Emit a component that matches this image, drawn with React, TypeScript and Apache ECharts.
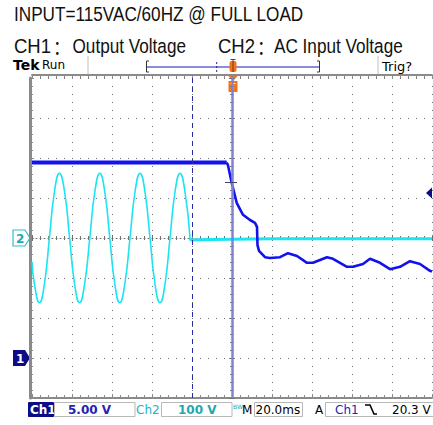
import React, { useEffect, useRef } from "react";
import * as echarts from "echarts";

// ---------- texts ----------
const titleLine = "INPUT=115VAC/60HZ @ FULL LOAD";
const legendParts = ["CH1", "：", "Output Voltage", "CH2", "：", "AC Input Voltage"];
const statusTexts = ["Tek", "Run", "Trig?"];
const bottomTexts = ["Ch1", "5.00 V", "Ch2", "100 V", "BW", "M", "20.0ms", "A", "Ch1", "20.3 V"];

// ---------- scope settings ----------
const TIME_MIN = -100; // ms (10 divisions of 20 ms)
const TIME_MAX = 100;
const TIME_PER_DIV = 20;
const DIV_MIN = -4;
const DIV_MAX = 4;
const CH1_VOLTS_PER_DIV = 5;
const CH1_OFFSET_DIV = -3;
const CH2_VOLTS_PER_DIV = 100;
const CH2_OFFSET_DIV = 0;

// ---------- CH2 : AC input voltage (V) ----------
const ch2SineTime = [
  -100, -98.8, -96.3, -93.8, -91.3, -88.8, -86.3, -83.7, -81.2, -78.7, -76.2, -73.7,
  -71.1, -68.6, -66.1, -63.6, -61.1, -58.6, -56.1, -53.6, -51.0, -48.5, -46.0, -43.5,
  -41.0, -38.5, -36.0, -33.5, -31.0, -28.5, -26.0, -23.5, -21.0,
];
const ch2SineVolts = [
  -60, -115, -162, -115, 0, 115, 162, 115, 0, -115, -162, -115,
  0, 115, 162, 115, 0, -115, -162, -115, 0, 115, 162, 115,
  0, -115, -162, -115, 0, 115, 162, 115, 0,
];
const ch2OffTime = [-21.0, -20.6, -10, 0, 20, 50, 80, 100];
const ch2OffVolts = [0, -5, -4, -3, -2, -2, -2, -2];

// ---------- CH1 : output voltage (V) ----------
const ch1HoldTime = [-100, -2.65];
const ch1HoldVolts = [24.44, 24.44];
const ch1DropTime = [
  -2.65, -2, -0.15, 2.35, 5.5, 9, 11.5, 12.5, 12.75, 13.5, 16.5, 19, 24, 28, 32.5,
  37.5, 40.5, 47.5, 50.5, 57.5, 60.5, 65.5, 69, 74, 79, 84, 89, 94, 99, 100,
];
const ch1DropVolts = [
  24.44, 24.1, 21.9, 19.4, 17.9, 17.25, 16.9, 16.4, 14.1, 13.4, 12.6, 12.5, 12.6, 13.1, 12.75,
  11.9, 11.9, 12.6, 12.4, 11.4, 11.4, 11.75, 12.4, 11.9, 11.1, 11.4, 12.1, 11.75, 10.9, 10.8,
];

// cursors (ms)
const cursorTime = 0;
const dashedCursorTime = -20;

const CH1_COLOR = "#1212ee";
const CH2_COLOR = "#1ce4f2";
const GRID_COLOR = "#707070";
const RULER_COLOR = "#8a8a8a";
const ORANGE = "#f07418";
const NAVY = "#0c0c86";

const toCh1 = (t: number[], v: number[]) => t.map((x, i) => [x, v[i] / CH1_VOLTS_PER_DIV + CH1_OFFSET_DIV]);
const toCh2 = (t: number[], v: number[]) => t.map((x, i) => [x, v[i] / CH2_VOLTS_PER_DIV + CH2_OFFSET_DIV]);

function buildOption(): any {
  const baseX = {
    type: "value",
    min: TIME_MIN,
    max: TIME_MAX,
    interval: TIME_PER_DIV,
    axisLabel: { show: false },
    splitLine: { show: false },
  };
  const baseY = {
    type: "value",
    min: DIV_MIN,
    max: DIV_MAX,
    interval: 1,
    axisLabel: { show: false },
    splitLine: { show: false },
  };
  const tickStyle = { color: GRID_COLOR, width: 1 };
  const rulerTick = { color: RULER_COLOR, width: 1 };

  const txt = (x: number, y: number, text: string, extra: any = {}, el: any = {}) => ({
    type: "text",
    x,
    y,
    silent: true,
    ...el,
    style: {
      text,
      fontFamily: "DejaVu Sans",
      fontSize: 12,
      fontWeight: "bold",
      fill: "#000",
      align: "left",
      verticalAlign: "middle",
      ...extra,
    },
  });
  const box = (x: number, y: number, w: number, h: number, fill = "#fff", stroke = "#b8b8b8") => ({
    type: "rect",
    silent: true,
    shape: { x, y, width: w, height: h },
    style: { fill, stroke, lineWidth: 1 },
  });

  const titleFont = { fontFamily: "Liberation Sans, Arial, sans-serif", fontSize: 19.5, fontWeight: "normal", fill: "#111" };
  const colonFont = { fontFamily: "Noto Sans CJK SC", fontSize: 19.5, fontWeight: "normal", fill: "#111" };
  const narrow = { scaleX: 0.88 };

  const graphic = [
    // title lines
    txt(14, 14, titleLine, titleFont, narrow),
    txt(14, 46.5, legendParts[0], titleFont, { scaleX: 0.95 }),
    txt(53, 46.5, legendParts[1], colonFont, narrow),
    txt(72.5, 46.5, legendParts[2], titleFont, narrow),
    txt(218, 46.5, legendParts[3], titleFont, { scaleX: 0.95 }),
    txt(257, 46.5, legendParts[4], colonFont, narrow),
    txt(274, 46.5, legendParts[5], titleFont, narrow),
    // status bar
    txt(13, 65, statusTexts[0], { fontSize: 14, fontFamily: "DejaVu Sans", fontWeight: "bold" }),
    txt(42, 65, statusTexts[1], { fontSize: 12, fontWeight: "normal" }),
    txt(382, 66, statusTexts[2], { fontSize: 13, fontWeight: "normal" }),
    { type: "line", silent: true, shape: { x1: 88, y1: 56, x2: 88, y2: 74 }, style: { stroke: "#c0c0c0", lineWidth: 1 } },
    { type: "line", silent: true, shape: { x1: 378, y1: 56, x2: 378, y2: 74 }, style: { stroke: "#c0c0c0", lineWidth: 1 } },
    // record view bar
    { type: "line", silent: true, shape: { x1: 146, y1: 67, x2: 320, y2: 67 }, style: { stroke: "#8c8cdc", lineWidth: 2 } },
    { type: "polyline", silent: true, shape: { points: [[149, 61], [146.5, 61], [146.5, 72], [149, 72]] }, style: { stroke: "#333", lineWidth: 1, fill: "none" } },
    { type: "polyline", silent: true, shape: { points: [[317, 61], [319.5, 61], [319.5, 72], [317, 72]] }, style: { stroke: "#333", lineWidth: 1, fill: "none" } },
    { type: "line", silent: true, shape: { x1: 216.7, y1: 62, x2: 216.7, y2: 72 }, style: { stroke: "#2020b0", lineWidth: 1, lineDash: [2, 2] } },
    { type: "rect", silent: true, shape: { x: 229.5, y: 61, width: 7, height: 11, r: 2 }, style: { fill: ORANGE } },
    { type: "line", silent: true, shape: { x1: 230.5, y1: 59.5, x2: 235.5, y2: 59.5 }, style: { stroke: "#7a3a10", lineWidth: 1 } },
    { type: "line", silent: true, shape: { x1: 233, y1: 59.5, x2: 233, y2: 72 }, style: { stroke: "#7a3a10", lineWidth: 1 } },
    // trigger position marker below the top ruler
    { type: "polygon", silent: true, shape: { points: [[228.5, 76], [237.5, 76], [233, 81]] }, style: { fill: ORANGE } },
    { type: "rect", silent: true, shape: { x: 228.5, y: 81, width: 9, height: 11 }, style: { fill: ORANGE } },
    { type: "line", silent: true, shape: { x1: 230.5, y1: 83.5, x2: 235.5, y2: 83.5 }, style: { stroke: "#fff", lineWidth: 1 } },
    { type: "line", silent: true, shape: { x1: 233, y1: 83.5, x2: 233, y2: 90 }, style: { stroke: "#fff", lineWidth: 1 } },
    // channel ground markers
    { type: "polygon", silent: true, shape: { points: [[13, 230], [25, 230], [30, 238], [25, 246], [13, 246]] }, style: { fill: "#fff", stroke: "#30c0c8", lineWidth: 1.2 } },
    txt(16, 238.5, "2", { fill: "#20a8b4", fontSize: 12 }),
    { type: "polygon", silent: true, shape: { points: [[13, 350], [25, 350], [30, 358], [25, 366], [13, 366]] }, style: { fill: NAVY } },
    txt(16, 358.5, "1", { fill: "#fff", fontSize: 12 }),
    // trigger level marker (right)
    { type: "polygon", silent: true, shape: { points: [[426, 193], [432, 187.5], [432, 198.5]] }, style: { fill: NAVY } },
    // bottom readout
    box(28.5, 402.5, 25, 14, NAVY, NAVY),
    txt(30, 410, bottomTexts[0], { fill: "#fff" }),
    box(54.5, 402.5, 80.5, 14),
    txt(68, 410, bottomTexts[1], { fill: "#2424b4" }),
    txt(136, 410, bottomTexts[2], { fill: "#22b4bc", fontWeight: "normal" }),
    box(161.5, 402.5, 70.5, 14),
    txt(178, 410, bottomTexts[3], { fill: "#1fa8ac" }),
    txt(233, 406, bottomTexts[4], { fill: "#1fa8ac", fontSize: 6, fontWeight: "normal" }),
    txt(242, 410, bottomTexts[5], { fontWeight: "normal" }),
    box(254.5, 402.5, 48, 14),
    txt(255.5, 410, bottomTexts[6], { fontWeight: "normal" }),
    txt(315, 410, bottomTexts[7], { fontWeight: "normal" }),
    box(325.5, 402.5, 112, 14),
    txt(335, 410, bottomTexts[8], { fill: "#2424b4", fontWeight: "normal" }),
    { type: "polyline", silent: true, shape: { points: [[365, 405], [370, 405], [374, 414], [377, 414]] }, style: { stroke: "#000", lineWidth: 1.6, fill: "none" } },
    txt(392, 410, bottomTexts[9], { fontWeight: "normal" }),
  ];

  return {
    animation: false,
    backgroundColor: "#ffffff",
    grid: { left: 32, right: 1, top: 78, bottom: 27, containLabel: false },
    xAxis: [
      {
        ...baseX,
        position: "bottom",
        axisLine: { show: true, onZero: true, onZeroAxisIndex: 0, lineStyle: { color: GRID_COLOR, width: 1, type: [1, 3] } },
        axisTick: { show: true, inside: true, length: 3, lineStyle: tickStyle },
        minorTick: { show: true, splitNumber: 5, length: 2, lineStyle: tickStyle },
        splitLine: { show: true, lineStyle: { color: GRID_COLOR, width: 1, type: [1, 7] } },
      },
      {
        ...baseX,
        position: "bottom",
        axisLine: { show: false, onZero: true, onZeroAxisIndex: 0 },
        axisTick: { show: true, inside: false, length: 3, lineStyle: tickStyle },
        minorTick: { show: true, splitNumber: 5, length: 2, lineStyle: tickStyle },
      },
      {
        ...baseX,
        position: "top",
        offset: 3,
        axisLine: { show: true, onZero: false, lineStyle: { color: RULER_COLOR, width: 2 } },
        axisTick: { show: true, inside: true, length: 4, lineStyle: rulerTick },
        minorTick: { show: true, splitNumber: 5, length: 3, lineStyle: rulerTick },
      },
      {
        ...baseX,
        position: "bottom",
        offset: 0,
        axisLine: { show: true, onZero: false, lineStyle: { color: RULER_COLOR, width: 2 } },
        axisTick: { show: true, inside: true, length: 4, lineStyle: rulerTick },
        minorTick: { show: true, splitNumber: 5, length: 3, lineStyle: rulerTick },
      },
    ],
    yAxis: [
      {
        ...baseY,
        position: "left",
        axisLine: { show: true, onZero: true, onZeroAxisIndex: 0, lineStyle: { color: GRID_COLOR, width: 1, type: [1, 3] } },
        axisTick: { show: true, inside: true, length: 3, lineStyle: tickStyle },
        minorTick: { show: true, splitNumber: 5, length: 2, lineStyle: tickStyle },
        splitLine: { show: true, lineStyle: { color: GRID_COLOR, width: 1, type: [1, 7] } },
      },
      {
        ...baseY,
        position: "left",
        axisLine: { show: false, onZero: true, onZeroAxisIndex: 0 },
        axisTick: { show: true, inside: false, length: 3, lineStyle: tickStyle },
        minorTick: { show: true, splitNumber: 5, length: 2, lineStyle: tickStyle },
      },
      {
        ...baseY,
        position: "left",
        offset: 2,
        axisLine: { show: true, onZero: false, lineStyle: { color: RULER_COLOR, width: 3 } },
        axisTick: { show: true, inside: true, length: 4, lineStyle: rulerTick },
        minorTick: { show: true, splitNumber: 5, length: 3, lineStyle: rulerTick },
      },
    ],
    series: [
      {
        name: "CH2",
        type: "line",
        xAxisIndex: 0,
        yAxisIndex: 0,
        data: toCh2(ch2SineTime, ch2SineVolts),
        smooth: 0.5,
        showSymbol: false,
        symbol: "none",
        lineStyle: { color: CH2_COLOR, width: 1.6 },
        silent: true,
      },
      {
        name: "CH2 off",
        type: "line",
        xAxisIndex: 0,
        yAxisIndex: 0,
        data: toCh2(ch2OffTime, ch2OffVolts),
        showSymbol: false,
        symbol: "none",
        lineStyle: { color: CH2_COLOR, width: 3 },
        silent: true,
      },
      {
        name: "CH1 hold",
        type: "line",
        xAxisIndex: 0,
        yAxisIndex: 0,
        data: toCh1(ch1HoldTime, ch1HoldVolts),
        showSymbol: false,
        symbol: "none",
        lineStyle: { color: CH1_COLOR, width: 4 },
        silent: true,
        markLine: {
          silent: true,
          symbol: "none",
          label: { show: false },
          data: [
            { xAxis: cursorTime, lineStyle: { color: "#8282d4", width: 2.5, type: "solid" } },
            { xAxis: dashedCursorTime, lineStyle: { color: "#2a2aa8", width: 1, type: [5, 4] } },
            [
              { coord: [-3.5, 1.4], lineStyle: { color: "#404070", width: 1, type: "solid" } },
              { coord: [2.5, 1.4] },
            ],
          ],
        },
      },
      {
        name: "CH1",
        type: "line",
        xAxisIndex: 0,
        yAxisIndex: 0,
        data: toCh1(ch1DropTime, ch1DropVolts),
        showSymbol: false,
        symbol: "none",
        lineStyle: { color: CH1_COLOR, width: 2.6 },
        silent: true,
      },
    ],
    graphic,
  };
}

export default function App() {
  const ref = useRef<HTMLDivElement>(null);
  useEffect(() => {
    if (!ref.current) return;
    const chart = echarts.init(ref.current, null, { renderer: "svg" });
    chart.setOption(buildOption());
    return () => chart.dispose();
  }, []);
  return (
    <div
      ref={ref}
      style={{ position: "absolute", left: 0, top: 0, width: 433, height: 425, background: "#fff" }}
    />
  );
}
